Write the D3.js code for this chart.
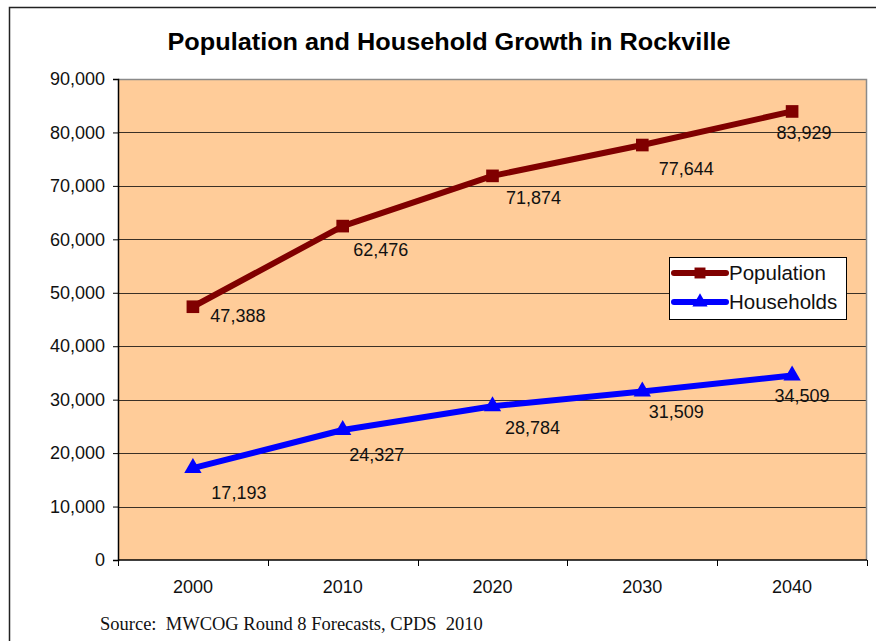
<!DOCTYPE html>
<html>
<head>
<meta charset="utf-8">
<script src="https://cdn.jsdelivr.net/npm/d3@7"></script>
<style>
  html, body { margin: 0; padding: 0; background: #fff; }
  svg { display: block; }
</style>
</head>
<body>
<svg id="chart" width="876" height="641"></svg>
<script>
// Forecast years and series
const years = ["2000", "2010", "2020", "2030", "2040"];
const population = [47388, 62476, 71874, 77644, 83929];
const households = [17193, 24327, 28784, 31509, 34509];
const yTicks = [0, 10000, 20000, 30000, 40000, 50000, 60000, 70000, 80000, 90000];

// Hand-placed value label offsets (dx, dy from the point, in px)
const popLabelNudge = [[45, 9], [38, 24], [41, 22], [44, 24], [12, 21]];
const hhLabelNudge = [[46, 25], [34, 25], [40, 22], [34, 20], [10, 20]];

const svg = d3.select("#chart");
const W = 876, H = 641;
const plot = { left: 118, top: 79, right: 867, bottom: 560 };
const font = "Liberation Sans, Arial, Helvetica, sans-serif";

// Outer frame (runs off the right and bottom edges)
svg.append("rect")
  .attr("x", 9.5).attr("y", 7.5)
  .attr("width", W + 20).attr("height", H + 20)
  .attr("fill", "#fff").attr("stroke", "#222").attr("stroke-width", 1.5);

const x = d3.scaleBand().domain(years).range([plot.left, plot.right]).padding(0);
const y = d3.scaleLinear().domain([0, 90000]).range([plot.bottom, plot.top]);

// Plot area background
svg.append("rect")
  .attr("x", plot.left).attr("y", plot.top)
  .attr("width", plot.right - plot.left).attr("height", plot.bottom - plot.top)
  .attr("fill", "#FFCC99");

// Gridlines
svg.append("g").selectAll("line")
  .data(yTicks.filter(d => d > 0 && d < 90000))
  .join("line")
  .attr("x1", plot.left).attr("x2", plot.right)
  .attr("y1", d => Math.round(y(d)) + 0.5).attr("y2", d => Math.round(y(d)) + 0.5)
  .attr("stroke", "#3a3026").attr("stroke-width", 1);

// Plot border: gray top/right
svg.append("path")
  .attr("d", `M${plot.left},${plot.top + 0.5}H${plot.right - 0.5}V${plot.bottom}`)
  .attr("fill", "none").attr("stroke", "#8a8a8a").attr("stroke-width", 1.5);

// Y axis
const yAxis = d3.axisLeft(y).tickValues(yTicks).tickSize(5).tickPadding(8)
  .tickFormat(d3.format(","));
const gy = svg.append("g").attr("transform", `translate(${plot.left},0)`).call(yAxis);
gy.select(".domain").attr("stroke", "#000").attr("stroke-width", 1.5);
gy.selectAll(".tick line").attr("stroke", "#000");
gy.selectAll("text").attr("font-family", font).attr("font-size", 18).attr("fill", "#111");

// X axis: ticks sit between categories
const gx = svg.append("g").attr("transform", `translate(0,${plot.bottom})`);
gx.append("line")
  .attr("x1", plot.left).attr("x2", plot.right)
  .attr("y1", 0).attr("y2", 0)
  .attr("stroke", "#000").attr("stroke-width", 1.5);
const bounds = years.map(d => x(d)).concat([x(years[years.length - 1]) + x.bandwidth()]);
gx.selectAll("line.tk").data(bounds).join("line").attr("class", "tk")
  .attr("x1", d => Math.round(d) + 0.5).attr("x2", d => Math.round(d) + 0.5)
  .attr("y1", 0).attr("y2", 6).attr("stroke", "#000");
gx.selectAll("text").data(years).join("text")
  .attr("x", d => x(d) + x.bandwidth() / 2).attr("y", 33)
  .attr("text-anchor", "middle")
  .attr("font-family", font).attr("font-size", 18).attr("fill", "#111")
  .text(d => d);

const cx = d => x(d) + x.bandwidth() / 2;
const line = d3.line().x(d => cx(d[0])).y(d => y(d[1]));

function drawSeries(values, color, shape, nudges) {
  const pts = years.map((yr, i) => [yr, values[i]]);
  svg.append("path").datum(pts)
    .attr("d", line).attr("fill", "none")
    .attr("stroke", color).attr("stroke-width", 6)
    .attr("stroke-linejoin", "round");
  const sym = d3.symbol().type(shape === "square" ? d3.symbolSquare : d3.symbolTriangle)
    .size(shape === "square" ? 160 : 130);
  svg.append("g").selectAll("path").data(pts).join("path")
    .attr("transform", d => `translate(${cx(d[0])},${y(d[1])})`)
    .attr("d", sym).attr("fill", color);
  svg.append("g").selectAll("text").data(pts).join("text")
    .attr("x", (d, i) => cx(d[0]) + nudges[i][0])
    .attr("y", (d, i) => y(d[1]) + nudges[i][1])
    .attr("dy", "0.35em")
    .attr("text-anchor", "middle")
    .attr("font-family", font).attr("font-size", 18).attr("fill", "#111")
    .text(d => d3.format(",")(d[1]));
}

drawSeries(population, "#800000", "square", popLabelNudge);
drawSeries(households, "#0000FF", "triangle", hhLabelNudge);

// Title
svg.append("text")
  .attr("x", 449).attr("y", 50)
  .attr("text-anchor", "middle")
  .attr("font-family", font).attr("font-size", 24).attr("font-weight", "bold")
  .attr("textLength", 563).attr("lengthAdjust", "spacingAndGlyphs")
  .attr("fill", "#000")
  .text("Population and Household Growth in Rockville");

// Legend
const lg = svg.append("g").attr("transform", "translate(669,257)");
lg.append("rect").attr("x", 0.5).attr("y", 0.5).attr("width", 177).attr("height", 62)
  .attr("fill", "#fff").attr("stroke", "#000").attr("stroke-width", 1);
const legendItems = [
  { name: "Population", color: "#800000", shape: d3.symbolSquare, size: 120 },
  { name: "Households", color: "#0000FF", shape: d3.symbolTriangle, size: 100 }
];
legendItems.forEach((it, i) => {
  const yy = 16 + i * 29;
  lg.append("line").attr("x1", 5).attr("x2", 57).attr("y1", yy).attr("y2", yy)
    .attr("stroke", it.color).attr("stroke-width", 6).attr("stroke-linecap", "round");
  lg.append("path").attr("transform", `translate(31,${yy})`)
    .attr("d", d3.symbol().type(it.shape).size(it.size)).attr("fill", it.color);
  lg.append("text").attr("x", 60).attr("y", yy).attr("dy", "0.35em")
    .attr("font-family", font).attr("font-size", 20.5).attr("fill", "#111")
    .text(it.name);
});

// Source note
svg.append("text")
  .attr("x", 100).attr("y", 630)
  .attr("font-family", "Liberation Serif, 'Times New Roman', serif")
  .attr("font-size", 18.5).attr("fill", "#111")
  .attr("xml:space", "preserve")
  .style("white-space", "pre")
  .text("Source:  MWCOG Round 8 Forecasts, CPDS  2010");
</script>
</body>
</html>
